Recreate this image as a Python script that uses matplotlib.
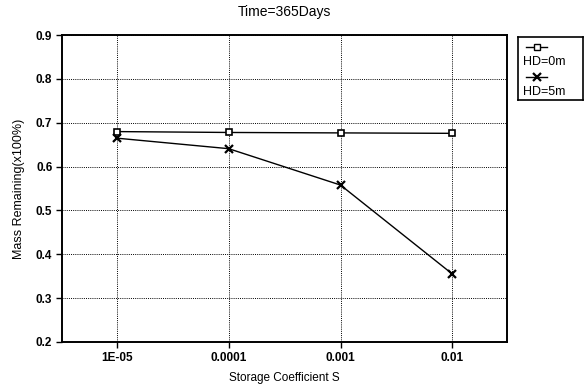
import matplotlib
matplotlib.use("Agg")
import matplotlib.pyplot as plt
from matplotlib.lines import Line2D
from matplotlib.ticker import FixedLocator, NullLocator

plt.rcParams['font.family'] = ['Liberation Sans', 'DejaVu Sans']

storage = [1e-5, 1e-4, 1e-3, 1e-2]
xtick_labels = ["1E-05", "0.0001", "0.001", "0.01"]
hd0 = [0.680, 0.678, 0.677, 0.676]
hd5 = [0.665, 0.641, 0.558, 0.355]
labels = ["HD=0m", "HD=5m"]
yticks = [0.2, 0.3, 0.4, 0.5, 0.6, 0.7, 0.8, 0.9]

fig = plt.figure(figsize=(5.85, 3.85), dpi=100)
ax = fig.add_axes([0.106, 0.1117, 0.761, 0.797])

ax.plot(storage, hd0, color='black', lw=1.0, marker='s', ms=4.5, mfc='white', mec='black', mew=1.2)
ax.plot(storage, hd5, color='black', lw=1.0, marker='x', ms=5.5, mew=1.6)

ax.set_xscale('log')
ax.set_xlim(10**-5.49, 10**-1.51)
ax.set_ylim(0.2, 0.9)
ax.xaxis.set_major_locator(FixedLocator(storage))
ax.xaxis.set_minor_locator(NullLocator())
ax.set_xticklabels(xtick_labels)
ax.set_yticks(yticks)
ax.set_yticklabels([f"{v:.1f}" for v in yticks])
ax.grid(True, which='major', color='black', linestyle=(0, (1, 1.2)), lw=0.7)
for s in ax.spines.values():
    s.set_linewidth(1.4)
ax.tick_params(direction='out', length=4, width=1, labelsize=8.5, pad=3)
for t in ax.get_yticklabels() + ax.get_xticklabels():
    t.set_fontweight('bold')

ax.set_xlabel("Storage Coefficient S", fontsize=8.5, labelpad=6)
ax.set_ylabel("Mass Remaining(x100%)", fontsize=9, labelpad=8)
ax.set_title("Time=365Days", fontsize=10, pad=14)

# legend box
lax = fig.add_axes([0.885, 0.74, 0.112, 0.164])
lax.set_xlim(0, 1)
lax.set_ylim(0, 1)
lax.set_xticks([])
lax.set_yticks([])
for s in lax.spines.values():
    s.set_linewidth(1.2)
lax.add_line(Line2D([0.12, 0.45], [0.84, 0.84], color='black', lw=1.0, transform=lax.transAxes))
lax.add_line(Line2D([0.29], [0.84], color='black', marker='s', ms=4.5, mfc='white', mec='black',
                    ls='none', transform=lax.transAxes))
lax.text(0.08, 0.60, labels[0], fontsize=9, va='center', ha='left')
lax.add_line(Line2D([0.12, 0.45], [0.36, 0.36], color='black', lw=1.0, transform=lax.transAxes))
lax.add_line(Line2D([0.29], [0.36], color='black', marker='x', ms=5.5, mew=1.6,
                    ls='none', transform=lax.transAxes))
lax.text(0.08, 0.13, labels[1], fontsize=9, va='center', ha='left')

fig.savefig("out.png", dpi=100)
